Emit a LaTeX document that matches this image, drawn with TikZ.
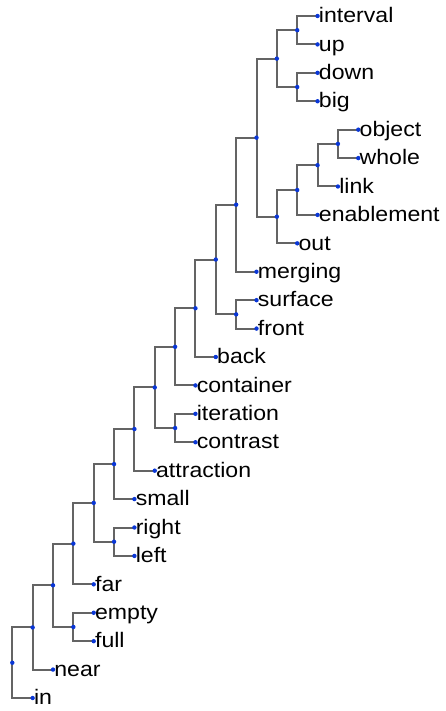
\documentclass[tikz,border=0pt]{standalone}
\usepackage{fontspec}
\newfontfamily\labfont[FakeStretch=1.1]{Liberation Sans}
\definecolor{edgegray}{RGB}{100,100,100}
\definecolor{dotblue}{RGB}{10,55,215}
\begin{document}
\begin{tikzpicture}[x=1pt,y=-1pt,
  edge/.style={draw=edgegray,line width=2pt},
  lab/.style={anchor=base west,inner sep=0pt,xshift=1.2pt,yshift=-6.7pt,
    font=\labfont\fontsize{21}{25}\selectfont},
  dotmark/.style={fill=dotblue}]
\fill[white] (0,0) rectangle (446,711);
\useasboundingbox (0,0) rectangle (446,711);
% leaves
\coordinate (interval) at (317.55,16.0);
\coordinate (up) at (317.55,44.42);
\coordinate (down) at (317.55,72.83);
\coordinate (big) at (317.55,101.25);
\coordinate (object) at (358.25,129.67);
\coordinate (whole) at (358.25,158.08);
\coordinate (link) at (337.9,186.5);
\coordinate (enablement) at (317.55,214.92);
\coordinate (out) at (297.2,243.33);
\coordinate (merging) at (256.5,271.75);
\coordinate (surface) at (256.5,300.17);
\coordinate (front) at (256.5,328.58);
\coordinate (back) at (215.8,357.0);
\coordinate (container) at (195.45,385.42);
\coordinate (iteration) at (195.45,413.83);
\coordinate (contrast) at (195.45,442.25);
\coordinate (attraction) at (154.75,470.67);
\coordinate (small) at (134.4,499.08);
\coordinate (right) at (134.4,527.5);
\coordinate (left) at (134.4,555.92);
\coordinate (far) at (93.7,584.33);
\coordinate (empty) at (93.7,612.75);
\coordinate (full) at (93.7,641.17);
\coordinate (near) at (53.0,669.58);
\coordinate (in) at (32.65,698.0);
% internal nodes
\coordinate (E) at (337.9,143.875);
\coordinate (D) at (317.55,165.19);
\coordinate (C) at (297.2,190.05);
\coordinate (B) at (276.85,216.69);
\coordinate (IU) at (297.2,30.21);
\coordinate (DB) at (297.2,87.04);
\coordinate (A) at (276.85,58.625);
\coordinate (R12) at (256.5,137.66);
\coordinate (R11) at (236.15,204.70);
\coordinate (SF) at (236.15,314.375);
\coordinate (R10) at (215.8,259.54);
\coordinate (R9) at (195.45,308.27);
\coordinate (R8) at (175.1,346.84);
\coordinate (IC) at (175.1,428.04);
\coordinate (R7) at (154.75,387.44);
\coordinate (R6) at (134.4,429.05);
\coordinate (R5) at (114.05,464.07);
\coordinate (RL) at (114.05,541.71);
\coordinate (R4) at (93.7,502.89);
\coordinate (R3) at (73.35,543.61);
\coordinate (EF) at (73.35,626.96);
\coordinate (R2) at (53.0,585.29);
\coordinate (R1) at (32.65,627.44);
\coordinate (R0) at (12.3,662.72);
% edges
\foreach \p/\c in {E/object,E/whole,D/link,D/E,C/enablement,C/D,B/out,B/C,
  IU/interval,IU/up,DB/down,DB/big,A/IU,A/DB,R12/A,R12/B,R11/merging,R11/R12,
  SF/surface,SF/front,R10/SF,R10/R11,R9/back,R9/R10,R8/container,R8/R9,
  IC/iteration,IC/contrast,R7/IC,R7/R8,R6/attraction,R6/R7,R5/small,R5/R6,
  RL/right,RL/left,R4/RL,R4/R5,R3/far,R3/R4,EF/empty,EF/full,R2/EF,R2/R3,
  R1/near,R1/R2,R0/in,R0/R1}
  \draw[edge] (\p) |- (\c);
% dots
\foreach \n in {interval,up,down,big,object,whole,link,enablement,out,merging,
  surface,front,back,container,iteration,contrast,attraction,small,right,left,
  far,empty,full,near,in,E,D,C,B,IU,DB,A,R12,R11,SF,R10,R9,R8,IC,R7,R6,R5,RL,
  R4,R3,EF,R2,R1,R0}
  \fill[dotmark] (\n) circle (2.2pt);
% labels
\foreach \n in {interval,up,down,big,object,whole,link,enablement,out,merging,
  surface,front,back,container,iteration,contrast,attraction,small,right,left,
  far,empty,full,near,in}
  \node[lab] (\n-t) at (\n) {\n};
\end{tikzpicture}
\end{document}
